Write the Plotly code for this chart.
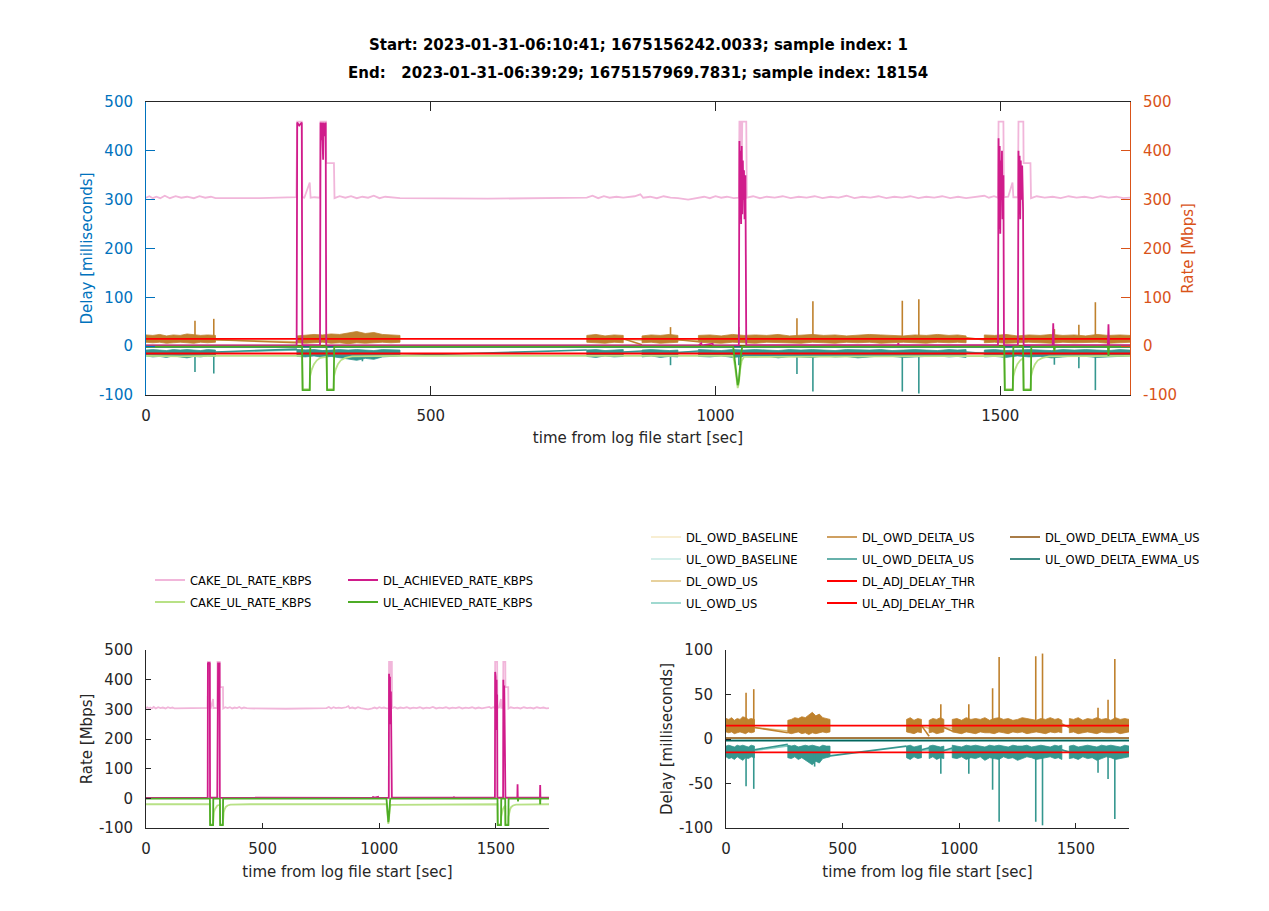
import plotly.graph_objects as go

W, H = 1269, 911
OFF = 8  # page body margin of the html page
T_END = 1727.8
FONT = "DejaVu Sans"

TITLE_START = "Start: 2023-01-31-06:10:41; 1675156242.0033; sample index: 1"
TITLE_END = "End:\u00a0\u00a0\u00a02023-01-31-06:39:29; 1675157969.7831; sample index: 18154"
X_LABEL = "time from log file start [sec]"
X_TICKS = [0, 500, 1000, 1500]
RATE_TICKS = [-100, 0, 100, 200, 300, 400, 500]
DELAY_TICKS = [-100, -50, 0, 50, 100]

# ---------------- rates (Mbps), UL plotted negative ----------------
CAKE_DL_RATE = [
    (0, 304), (6, 307), (12, 303), (18, 306), (25, 303), (33, 308), (42, 303), (52, 307), (62, 304),
    (72, 306), (84, 303), (94, 307), (104, 304), (114, 306), (122, 303),
    (200, 303), (264, 305), (265.5, 460), (273.5, 460), (274.5, 305), (278, 304), (287.5, 335), (289, 304),
    (296, 305), (305.5, 304), (306.5, 460), (316, 460), (316.5, 375), (330, 375), (331, 303),
    (340, 307), (350, 304), (360, 307), (370, 303), (380, 306), (390, 304), (400, 308), (410, 303),
    (420, 306), (432, 304), (446, 303),
    (600, 302), (774, 304), (784, 308), (794, 303), (804, 307), (814, 304), (826, 306), (838, 304),
    (858, 307), (868, 311), (873, 304), (885, 306), (897, 303), (909, 307), (921, 304), (934, 303),
    (952, 300), (970, 303), (980, 306), (990, 303), (1000, 307), (1010, 304), (1020, 306), (1032, 303),
    (1041, 304), (1042, 460), (1044.5, 460), (1045.5, 330), (1047, 460), (1054, 460), (1055, 304),
    (1066, 307), (1078, 303), (1090, 306), (1104, 304), (1118, 307), (1132, 303), (1146, 306),
    (1160, 304), (1174, 307), (1188, 303), (1202, 306), (1216, 304), (1230, 308), (1244, 303),
    (1258, 306), (1272, 304), (1286, 307), (1300, 303), (1314, 306), (1328, 304), (1342, 307),
    (1356, 303), (1370, 306), (1384, 304), (1398, 307), (1412, 303), (1426, 306), (1440, 303),
    (1472, 308), (1480, 304), (1489, 307), (1496, 304), (1497, 460), (1505.5, 460), (1506.5, 305),
    (1514, 306), (1521.5, 335), (1523, 305), (1531, 305), (1532, 460), (1540.5, 460), (1541, 375),
    (1553, 375), (1554, 303), (1564, 307), (1578, 304), (1592, 306), (1606, 303), (1620, 307),
    (1634, 304), (1648, 306), (1662, 303), (1676, 307), (1690, 304), (1704, 306), (1716, 303), (1727.8, 304),
]
CAKE_UL_RATE = [
    (0, -20), (60, -21), (122, -20), (274, -20), (275, -88), (287.5, -88), (288, -62), (291, -48),
    (295, -37), (300, -29), (306, -24), (317, -22), (318, -88), (329.5, -88), (330, -62), (333, -48),
    (337, -37), (342, -29), (350, -24), (362, -21), (446, -20), (1031, -20), (1034, -40), (1037, -72),
    (1039, -86), (1041, -76), (1043, -50), (1046, -30), (1050, -22), (1507, -20), (1508, -88),
    (1522, -88), (1523, -62), (1526, -48), (1530, -37), (1535, -29), (1540.5, -25), (1541, -88),
    (1553.5, -88), (1554, -62), (1557, -48), (1561, -37), (1566, -29), (1574, -24), (1586, -21),
    (1727.8, -20),
]
DL_ACHIEVED_RATE = [
    (0, 1.5), (264.5, 1.5), (265.5, 458), (269, 452), (273.5, 458), (274.5, 2), (305.5, 2), (306.5, 458),
    (308, 422), (309, 458), (311, 382), (312, 458), (314, 430), (315.5, 458), (316.5, 2), (970, 1.5),
    (975, 6), (976, 1.5), (995, 5), (996, 1.5), (1041, 2), (1042, 420), (1043, 260), (1044, 400),
    (1045, 250), (1046, 410), (1047, 270), (1048, 380), (1049, 300), (1050, 360), (1051, 260),
    (1052.5, 350), (1054, 2), (1320, 2), (1321, 6), (1322, 2), (1496, 2), (1497, 426), (1498, 240),
    (1499, 410), (1500, 230), (1501, 380), (1502, 300), (1503, 400), (1504, 260), (1505.5, 350),
    (1506.5, 2), (1531, 2), (1532, 400), (1533, 270), (1534, 390), (1535, 260), (1536, 380),
    (1537, 300), (1538.5, 370), (1540, 280), (1541, 2), (1592, 2), (1593, 47), (1594, 2), (1689, 2),
    (1690, 45), (1691, 2), (1727.8, 2),
]
UL_ACHIEVED_RATE = [
    (0, -1), (274, -1), (275, -90), (287.5, -90), (288.5, -1), (317, -1), (318, -90), (329.5, -90),
    (330.5, -1), (1031, -1), (1034, -30), (1037, -65), (1039, -80), (1041, -70), (1043, -40),
    (1045, -15), (1047, -1), (1507, -1), (1508, -90), (1522, -90), (1523, -1), (1540, -1), (1541, -90),
    (1553.5, -90), (1554.5, -1), (1594, -1), (1595, -10), (1596, -1), (1689, -1), (1690, -20),
    (1691, -1), (1727.8, -1),
]

# ---------------- delays (ms), UL plotted negative ----------------
BAND_T = [0, 12, 24, 36, 48, 60, 72, 84, 96, 108, 122, None,
          265, 280, 295, 310, 325, 340, 355, 370, 385, 400, 415, 430, 446, None,
          774, 790, 806, 822, 838, None,
          871, 887, 903, 919, 934, None,
          970, 990, 1010, 1030, 1050, 1070, 1090, 1110, 1130, 1150, 1170, 1190, 1210, 1230, 1250,
          1270, 1290, 1310, 1330, 1350, 1370, 1390, 1410, 1425, 1440, None,
          1472, 1490, 1510, 1530, 1550, 1570, 1590, 1610, 1630, 1650, 1670, 1690, 1710, 1727.8]
DL_DELTA_UP = [23, 22, 24, 21, 23, 22, 25, 24, 22, 23, 22, None,
               21, 22, 24, 23, 25, 24, 27, 30, 26, 28, 24, 23, 22, None,
               22, 24, 21, 23, 22, None,
               21, 23, 22, 24, 22, None,
               22, 23, 21, 24, 22, 23, 22, 24, 21, 23, 24, 22, 23, 21, 22, 24, 23, 22, 21, 23, 22, 24, 22, 23, 21, None,
               23, 22, 24, 21, 23, 22, 24, 22, 23, 21, 24, 22, 23, 22]
DL_DELTA_LO = [8, 7, 8, 6, 7, 8, 7, 6, 8, 7, 8, None,
               7, 6, 7, 8, 6, 7, 5, 7, 6, 7, 8, 7, 8, None,
               8, 7, 6, 8, 7, None,
               7, 8, 6, 7, 8, None,
               8, 7, 6, 8, 7, 6, 8, 7, 7, 6, 8, 7, 6, 8, 7, 8, 6, 7, 8, 7, 6, 8, 7, 8, 7, None,
               7, 8, 6, 7, 8, 7, 6, 8, 7, 7, 8, 6, 7, 8]
UL_DELTA_UP = [-8, -7, -8, -9, -7, -8, -7, -8, -9, -7, -8, None,
               -7, -8, -7, -9, -8, -7, -8, -7, -8, -9, -7, -8, -8, None,
               -8, -7, -9, -8, -7, None,
               -8, -7, -8, -9, -8, None,
               -7, -8, -9, -7, -8, -7, -8, -9, -7, -8, -7, -8, -9, -7, -8, -8, -7, -9, -8, -7, -8, -9, -7, -8, -7, None,
               -8, -7, -9, -8, -7, -8, -9, -7, -8, -7, -8, -9, -7, -8]
UL_DELTA_LO = [-20, -22, -21, -23, -20, -22, -24, -21, -22, -20, -21, None,
               -21, -22, -20, -23, -21, -24, -26, -29, -25, -27, -22, -21, -20, None,
               -21, -23, -20, -22, -21, None,
               -22, -20, -23, -21, -22, None,
               -21, -22, -20, -23, -21, -22, -20, -24, -21, -22, -23, -20, -22, -21, -24, -22, -20, -21, -23, -22, -21, -20, -22, -21, -23, None,
               -22, -21, -23, -20, -22, -21, -24, -22, -20, -21, -23, -22, -21, -20]

DL_DELTA_GAP_T = [122, 265, None, 838, 871, None, 934, 970, None, 1440, 1472]
DL_DELTA_GAP_V = [13, 7, None, 15, 3, None, 13, 9, None, 17, 13]
UL_DELTA_GAP_T = [122, 265, None, 446, 774, None, 838, 871, None, 934, 970, None, 1440, 1472]
UL_DELTA_GAP_V = [-12, -6, None, -19, -8, None, -12, -10, None, -13, -10, None, -12, -15]

DL_SPIKE_T = [86, 119, 921, 1041, 1143, 1171, 1328, 1357, 1595, 1638, 1667]
DL_SPIKE_V = [52, 56, 39, 39, 57, 92, 93, 96, 35, 44, 90]
UL_SPIKE_T = [86, 119, 380, 921, 1041, 1143, 1171, 1328, 1357, 1595, 1638, 1667]
UL_SPIKE_V = [-53, -56, -31, -39, -39, -57, -93, -93, -97, -38, -45, -90]
DL_SPIKE_BASE = 15
UL_SPIKE_BASE = -14

OWD_US_T = [0, 122, 265, 446, None, 774, 838, 871, 934, 970, 1440, 1472, 1727.8]
DL_OWD_US_V = [14, 13, 9, 14, None, 13, 14, 12, 13, 12, 15, 14, 14]
UL_OWD_US_V = [-14, -13, -8, -14, None, -9, -13, -12, -13, -12, -13, -14, -14]

FLAT_T = [0, 1727.8]
DL_OWD_BASELINE_V = [0.4, 0.4]
UL_OWD_BASELINE_V = [-0.4, -0.4]
DL_EWMA_V = [1.2, 1.2]
UL_EWMA_V = [-1.8, -1.8]
DL_THR_V = [15, 15]
UL_THR_V = [-15, -15]

# ---------------- colours ----------------
C_CAKE_DL, C_DL_ACH, C_CAKE_UL, C_UL_ACH = "#F1B6DA", "#D01C8B", "#B8E186", "#4DAC26"
C_DL_BASE, C_UL_BASE, C_DL_US, C_UL_US = "#F6E8C3", "#C7EAE5", "#DFC27D", "#80CDC1"
C_DL_DELTA, C_UL_DELTA, C_DL_EWMA, C_UL_EWMA = "#BF812D", "#35978F", "#8C510A", "#01665E"
C_THR = "#FF0000"
C_AX = "#262626"
C_LEFT = "#0072BD"
C_RIGHT = "#D95319"


def unzip(pairs):
    return [p[0] for p in pairs], [p[1] for p in pairs]


def spikes(ts, vs, base):
    x, y = [], []
    for t, v in zip(ts, vs):
        x += [t, t, None]
        y += [base, v, None]
    return x, y


def polygons(ts, up, lo):
    x, y = [], []
    st, su, sl = [], [], []
    for t, u, l in zip(ts + [None], up + [None], lo + [None]):
        if t is None:
            if st:
                x += st + st[::-1] + [st[0], None]
                y += su + sl[::-1] + [su[0], None]
            st, su, sl = [], [], []
        else:
            st.append(t)
            su.append(u)
            sl.append(l)
    return x, y


def fx(p):  # screen x pixel -> paper fraction
    return (p - OFF) / W


def fy(p):  # screen y pixel -> paper fraction
    return 1 - (p - OFF) / H


fig = go.Figure()


def add(name, x, y, color, width, legend, kind, fill=False):
    top_axes = ("x", "y2") if kind == "rate" else ("x", "y")
    bot_axes = ("x2", "y3") if kind == "rate" else ("x3", "y4")
    for (xa, ya), show in ((top_axes, False), (bot_axes, not fill)):
        kw = dict(x=x, y=y, name=name, legendgroup=name, xaxis=xa, yaxis=ya,
                  showlegend=show, legend=legend, hoverinfo="skip")
        if fill:
            kw.update(mode="lines", fill="toself", fillcolor=color,
                      line=dict(color=color, width=0.8))
        else:
            kw.update(mode="lines", line=dict(color=color, width=width))
        fig.add_trace(go.Scatter(**kw))


# delay traces (drawn under the rate traces in the top panel)
add("DL_OWD_BASELINE", FLAT_T, DL_OWD_BASELINE_V, C_DL_BASE, 1.5, "legend3", "delay")
add("UL_OWD_BASELINE", FLAT_T, UL_OWD_BASELINE_V, C_UL_BASE, 1.5, "legend3", "delay")
add("DL_OWD_US", OWD_US_T, DL_OWD_US_V, C_DL_US, 1.5, "legend3", "delay")
add("UL_OWD_US", OWD_US_T, UL_OWD_US_V, C_UL_US, 1.5, "legend3", "delay")

bx, by = polygons(BAND_T, DL_DELTA_UP, DL_DELTA_LO)
add("DL_OWD_DELTA_US", bx, by, C_DL_DELTA, 1, "legend4", "delay", fill=True)
sx, sy = spikes(DL_SPIKE_T, DL_SPIKE_V, DL_SPIKE_BASE)
add("DL_OWD_DELTA_US", DL_DELTA_GAP_T + [None] + sx, DL_DELTA_GAP_V + [None] + sy, C_DL_DELTA, 1.6, "legend4", "delay")

bx, by = polygons(BAND_T, UL_DELTA_UP, UL_DELTA_LO)
add("UL_OWD_DELTA_US", bx, by, C_UL_DELTA, 1, "legend4", "delay", fill=True)
sx, sy = spikes(UL_SPIKE_T, UL_SPIKE_V, UL_SPIKE_BASE)
add("UL_OWD_DELTA_US", UL_DELTA_GAP_T + [None] + sx, UL_DELTA_GAP_V + [None] + sy, C_UL_DELTA, 1.6, "legend4", "delay")

add("DL_OWD_DELTA_EWMA_US", FLAT_T, DL_EWMA_V, C_DL_EWMA, 1.6, "legend5", "delay")
add("UL_OWD_DELTA_EWMA_US", FLAT_T, UL_EWMA_V, C_UL_EWMA, 1.6, "legend5", "delay")
add("DL_ADJ_DELAY_THR", FLAT_T, DL_THR_V, C_THR, 1.8, "legend4", "delay")
add("UL_ADJ_DELAY_THR", FLAT_T, UL_THR_V, C_THR, 1.8, "legend4", "delay")

# rate traces
t, v = unzip(CAKE_DL_RATE)
add("CAKE_DL_RATE_KBPS", t, v, C_CAKE_DL, 1.8, "legend", "rate")
t, v = unzip(CAKE_UL_RATE)
add("CAKE_UL_RATE_KBPS", t, v, C_CAKE_UL, 1.8, "legend", "rate")
t, v = unzip(DL_ACHIEVED_RATE)
add("DL_ACHIEVED_RATE_KBPS", t, v, C_DL_ACH, 1.8, "legend2", "rate")
t, v = unzip(UL_ACHIEVED_RATE)
add("UL_ACHIEVED_RATE_KBPS", t, v, C_UL_ACH, 1.8, "legend2", "rate")

TICK_FONT = dict(family=FONT, size=15, color=C_AX)
TITLE_FONT = dict(family=FONT, size=15, color=C_AX)


def xaxis(domain, anchor, ticklen, mirror, standoff):
    return dict(domain=domain, anchor=anchor, range=[0, T_END], tickvals=X_TICKS,
                ticktext=[str(v) for v in X_TICKS], automargin=False,
                showgrid=False, zeroline=False, showline=True, linecolor=C_AX, linewidth=1,
                ticks="inside", ticklen=ticklen, tickcolor=C_AX, mirror=mirror,
                tickfont=TICK_FONT, ticklabelstandoff=7,
                title=dict(text=X_LABEL, font=TITLE_FONT, standoff=standoff))


def yaxis(domain, anchor, rng, tickvals, ticklen, color, title, standoff, side="left"):
    return dict(domain=domain, anchor=anchor, range=rng, tickvals=tickvals, side=side,
                ticktext=[str(v) for v in tickvals], automargin=False,
                showgrid=False, zeroline=False, showline=True, linecolor=color, linewidth=1,
                ticks="inside", ticklen=ticklen, tickcolor=color,
                tickfont=dict(family=FONT, size=15, color=color), ticklabelstandoff=9,
                title=dict(text=title, font=dict(family=FONT, size=15, color=color), standoff=standoff))


TOP_X = [fx(146), fx(1130)]
TOP_Y = [fy(395), fy(102)]
BL_X = [fx(146), fx(549)]
BR_X = [fx(726), fx(1129)]
BOT_Y = [fy(828), fy(650)]

y2 = yaxis(TOP_Y, "x", [-100, 500], RATE_TICKS, 9, C_RIGHT, "Rate [Mbps]", 6, side="right")
y2.pop("domain")
y2["overlaying"] = "y"

LEG_FONT = dict(family=FONT, size=11.5, color="#000000")


def legend(left_px, top_px):
    return dict(x=fx(left_px), y=fy(top_px), xanchor="left", yanchor="top", orientation="v",
                bgcolor="rgba(0,0,0,0)", borderwidth=0, font=LEG_FONT,
                traceorder="grouped", tracegroupgap=3, itemwidth=30)


fig.update_layout(
    width=W, height=H, margin=dict(l=0, r=0, t=0, b=0, autoexpand=False),
    paper_bgcolor="white", plot_bgcolor="white",
    font=dict(family=FONT, color=C_AX),
    showlegend=True,
    xaxis=xaxis(TOP_X, "y", 9, "ticks", 8),
    yaxis=yaxis(TOP_Y, "x", [-100, 500], RATE_TICKS, 9, C_LEFT, "Delay [milliseconds]", 2),
    yaxis2=y2,
    xaxis2=xaxis(BL_X, "y3", 5, False, 9),
    yaxis3=yaxis(BOT_Y, "x2", [-100, 500], RATE_TICKS, 5, C_AX, "Rate [Mbps]", 2),
    xaxis3=xaxis(BR_X, "y4", 5, False, 9),
    yaxis4=yaxis(BOT_Y, "x3", [-100, 100], DELAY_TICKS, 5, C_AX, "Delay [milliseconds]", 2),
    legend=legend(150, 565.5),
    legend2=legend(343, 565.5),
    legend3=legend(646, 522.5),
    legend4=legend(822, 522.5),
    legend5=legend(1005, 522.5),
    annotations=[
        dict(text="<b>" + TITLE_START + "</b>", x=fx(638), y=fy(45), xref="paper", yref="paper",
             xanchor="center", yanchor="middle", showarrow=False, font=dict(family=FONT, size=15, color="#000000")),
        dict(text="<b>" + TITLE_END + "</b>", x=fx(638), y=fy(73), xref="paper", yref="paper",
             xanchor="center", yanchor="middle", showarrow=False, font=dict(family=FONT, size=15, color="#000000")),
    ],
)

fig.write_html("out.html")
